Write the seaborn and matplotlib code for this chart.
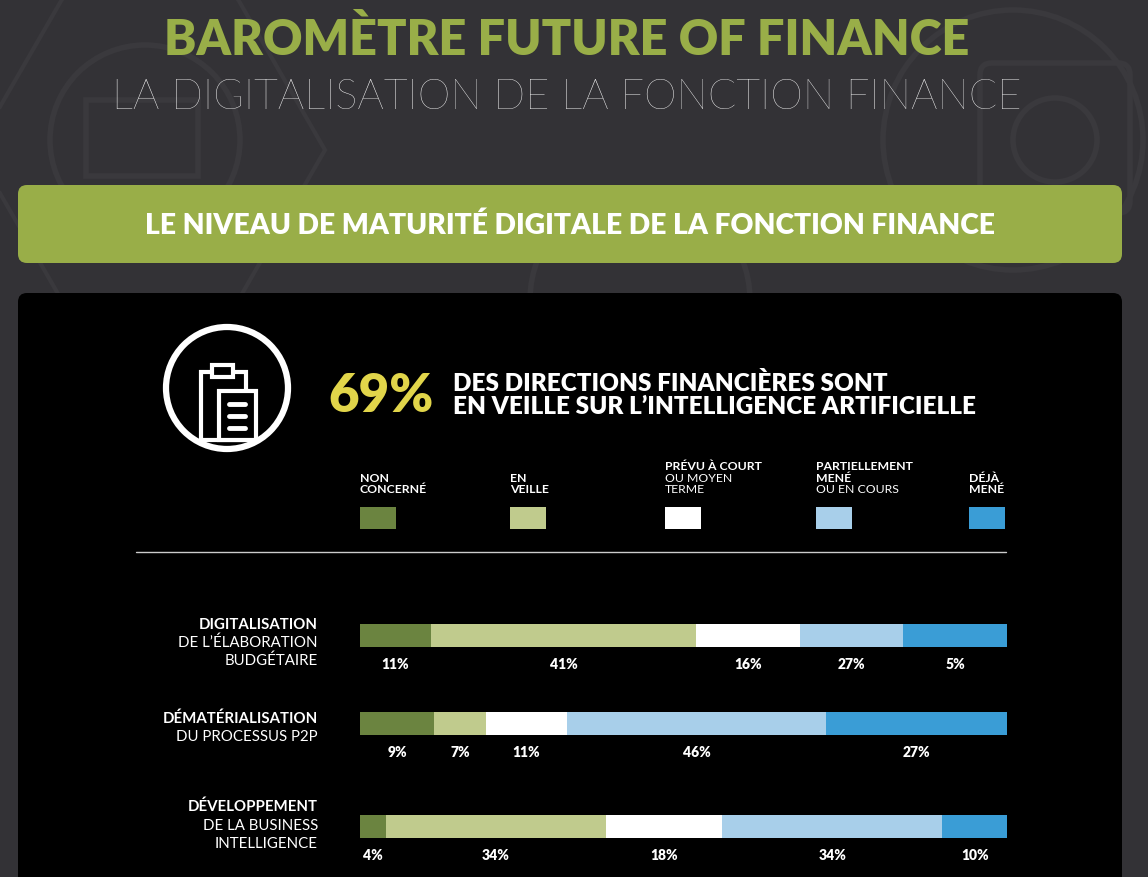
import numpy as np
import pandas as pd
import seaborn as sns
import matplotlib
matplotlib.use("Agg")
import matplotlib.pyplot as plt
from matplotlib.patches import FancyBboxPatch, Circle, Rectangle, RegularPolygon

# ---------------- data ----------------
categories = ["NON CONCERNÉ", "EN VEILLE", "PRÉVU À COURT OU MOYEN TERME",
              "PARTIELLEMENT MENÉ OU EN COURS", "DÉJÀ MENÉ"]
legend_bold = ["NON\nCONCERNÉ", "EN\nVEILLE", "PRÉVU À COURT", "PARTIELLEMENT\nMENÉ", "DÉJÀ\nMENÉ"]
legend_regular = ["", "", "OU MOYEN\nTERME", "OU EN COURS", ""]
colors = ["#6b8440", "#c0cb8d", "#ffffff", "#a8cfea", "#3a9dd6"]

rows_bold = ["DIGITALISATION", "DÉMATÉRIALISATION", "DÉVELOPPEMENT"]
rows_regular = ["DE L’ÉLABORATION\nBUDGÉTAIRE", "DU PROCESSUS P2P", "DE LA BUSINESS\nINTELLIGENCE"]

# segment widths as drawn in the picture (%)
seg_budget = [11, 41, 16, 16, 16]
seg_p2p = [11.5, 8, 12.5, 40, 28]
seg_bi = [4, 34, 18, 34, 10]
# printed labels
lab_budget = ["11%", "41%", "16%", "27%", "5%"]
lab_p2p = ["9%", "7%", "11%", "46%", "27%"]
lab_bi = ["4%", "34%", "18%", "34%", "10%"]

headline_value = "69%"
headline_text = "DES DIRECTIONS FINANCIÈRES SONT\nEN VEILLE SUR L’INTELLIGENCE ARTIFICIELLE"
title = "BAROMÈTRE FUTURE OF FINANCE"
subtitle = "LA DIGITALISATION DE LA FONCTION FINANCE"
banner = "LE NIVEAU DE MATURITÉ DIGITALE DE LA FONCTION FINANCE"

# ---------------- style ----------------
sns.set_theme(style="white")
plt.rcParams["font.family"] = ["Lato", "DejaVu Sans"]

W, H = 1148, 877
BG = "#333236"
GREEN = "#99ae48"
DECO = "#3a393d"

fig = plt.figure(figsize=(W / 100, H / 100), dpi=100, facecolor=BG)
bg = fig.add_axes([0, 0, 1, 1])
bg.set_xlim(0, W)
bg.set_ylim(H, 0)
bg.axis("off")
bg.set_facecolor(BG)

# faint background decoration
for (cx, cy, r) in [(145, 140, 95), (1013, 140, 130), (1055, 140, 42), (640, 300, 110)]:
    bg.add_patch(Circle((cx, cy), r, fill=False, ec=DECO, lw=4, zorder=0))
bg.add_patch(Rectangle((86, 100), 112, 76, fill=False, ec=DECO, lw=4, zorder=0))
bg.add_patch(FancyBboxPatch((980, 63), 150, 150, boxstyle="round,pad=0,rounding_size=12",
                            fill=False, ec=DECO, lw=4, zorder=0))
bg.add_patch(RegularPolygon((150, 150), 6, radius=175, orientation=np.pi / 6,
                            fill=False, ec=DECO, lw=3, zorder=0))

# titles
bg.text(567, 40, title, ha="center", va="center", color=GREEN, fontsize=35,
        fontweight="heavy")
bg.text(567, 98, subtitle, ha="center", va="center", color="white", fontsize=30,
        fontweight="light")

# green banner
bg.add_patch(FancyBboxPatch((18, 185), 1104, 78, boxstyle="round,pad=0,rounding_size=9",
                            fc=GREEN, ec="none", zorder=1))
bg.text(570, 226, banner, ha="center", va="center", color="white", fontsize=20.3,
        fontweight="heavy", zorder=2)

# black panel
bg.add_patch(FancyBboxPatch((18, 293), 1104, 620, boxstyle="round,pad=0,rounding_size=9",
                            fc="black", ec="none", zorder=1))

# icon
bg.add_patch(Circle((227, 388), 61, fill=False, ec="white", lw=4.5, zorder=3))
bg.add_patch(Rectangle((201, 372), 45, 68, fill=False, ec="white", lw=3, zorder=3))
bg.add_patch(Rectangle((212, 365), 21, 12, fc="black", ec="white", lw=3, zorder=4))
bg.add_patch(Rectangle((219, 391), 37, 49, fc="black", ec="white", lw=3, zorder=4))
for yy in [404, 416, 428]:
    bg.plot([229, 245], [yy, yy], color="white", lw=3.5, solid_capstyle="round", zorder=5)

# headline
bg.text(328, 396, headline_value, ha="left", va="center", color="#e1d54a", fontsize=38,
        fontweight="heavy", zorder=3)
bg.text(453, 395, headline_text, ha="left", va="center", color="white", fontsize=17.5,
        fontweight="heavy", linespacing=1.1, zorder=3)

# legend
leg_x = [360, 510, 665, 816, 969]
for i in range(5):
    lines = [(t, "bold") for t in legend_bold[i].split("\n")]
    if legend_regular[i]:
        lines += [(t, "normal") for t in legend_regular[i].split("\n")]
    ys = [495 - 11.5 * (len(lines) - 1 - k) for k in range(len(lines))]
    for (t, w), yy in zip(lines, ys):
        bg.text(leg_x[i], yy, t, ha="left", va="bottom", color="white", fontsize=8.8,
                fontweight=w, zorder=3)
    bg.add_patch(Rectangle((leg_x[i], 507), 36, 22, fc=colors[i], ec="none", zorder=3))

bg.plot([136, 1006], [552, 552], color="#cccccc", lw=1, zorder=3)

# row labels
row_label_y = [(625, [643, 661]), (719, [737]), (807, [826, 844])]
for i in range(3):
    yb, yrs = row_label_y[i]
    bg.text(318, yb, rows_bold[i], ha="right", va="center", color="white", fontsize=10.8,
            fontweight="bold", zorder=3)
    for t, yy in zip(rows_regular[i].split("\n"), yrs):
        bg.text(318, yy, t, ha="right", va="center", color="white", fontsize=10.8,
                fontweight="normal", zorder=3)

# ---------------- stacked bars (seaborn) ----------------
bar_rows = [(seg_budget, lab_budget, 624), (seg_p2p, lab_p2p, 712), (seg_bi, lab_bi, 815)]
x0, x1 = 360, 1007
bar_h = 23
for segs, labs, ytop in bar_rows:
    ax = fig.add_axes([x0 / W, 1 - (ytop + bar_h) / H, (x1 - x0) / W, bar_h / H])
    df = pd.DataFrame({"cat": categories, "val": segs, "row": ["r"] * 5})
    df["cum"] = df["val"].cumsum()
    # draw cumulative sums from largest to smallest so each segment shows
    for k in range(4, -1, -1):
        sns.barplot(data=df.iloc[[k]], x="cum", y="row", color=colors[k], orient="h",
                    width=1.0, saturation=1, edgecolor="none", linewidth=0, ax=ax)
    ax.set_xlim(0, 100)
    ax.set_ylim(0.5, -0.5)
    ax.axis("off")
    ax.set_facecolor("none")
    starts = df["cum"] - df["val"]
    for k in range(5):
        ax.text(starts[k] + df["val"][k] / 2, 0.5 + 17.5 / bar_h, labs[k],
                ha="center", va="center", color="white", fontsize=10, fontweight="heavy",
                transform=ax.transData, clip_on=False)

fig.savefig("out.png", dpi=100, facecolor=BG)
